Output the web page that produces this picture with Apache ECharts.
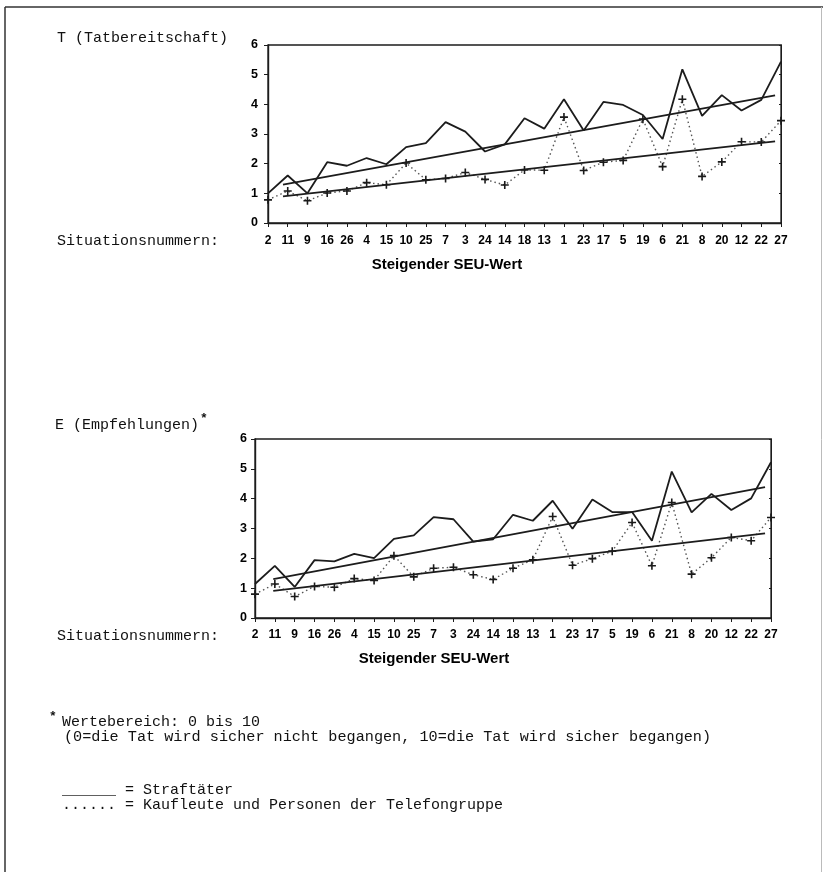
<!DOCTYPE html>
<html>
<head>
<meta charset="utf-8">
<script src="https://cdn.jsdelivr.net/npm/echarts@6/dist/echarts.min.js"></script>
<style>
  html, body { margin: 0; padding: 0; background: #fff; }
  #chart { width: 823px; height: 872px; }
</style>
</head>
<body>
<div id="chart"></div>
<script>
// Situation numbers, ordered by rising SEU value
const situations = ['2','11','9','16','26','4','15','10','25','7','3','24','14','18','13','1','23','17','5','19','6','21','8','20','12','22','27'];
const yTicks = [0, 1, 2, 3, 4, 5, 6];

// T (Tatbereitschaft)
const tStraftaeter = [1.0,1.6,1.0,2.05,1.93,2.19,1.98,2.56,2.69,3.40,3.08,2.41,2.65,3.53,3.18,4.17,3.12,4.08,3.98,3.64,2.83,5.18,3.61,4.31,3.79,4.15,5.44];
const tKaufleute = [0.78,1.08,0.75,1.01,1.08,1.36,1.29,2.02,1.46,1.50,1.70,1.47,1.28,1.79,1.78,3.57,1.77,2.05,2.11,3.50,1.90,4.17,1.57,2.06,2.74,2.73,3.45];
// regression lines: [position along situation index, value]
const tTrendStraftaeter = [[0.76, 1.29], [25.7, 4.30]];
const tTrendKaufleute = [[0.76, 0.90], [25.7, 2.75]];

// E (Empfehlungen)
const eStraftaeter = [1.14,1.75,1.04,1.94,1.90,2.15,2.01,2.65,2.77,3.38,3.31,2.56,2.64,3.46,3.26,3.93,2.99,3.97,3.55,3.55,2.59,4.91,3.54,4.16,3.62,4.01,5.22];
const eKaufleute = [0.80,1.14,0.72,1.06,1.03,1.32,1.26,2.09,1.38,1.67,1.70,1.45,1.29,1.67,1.95,3.40,1.77,1.99,2.24,3.20,1.75,3.87,1.47,2.02,2.70,2.59,3.37];
const eTrendStraftaeter = [[0.92, 1.30], [25.7, 4.39]];
const eTrendKaufleute = [[0.92, 0.91], [25.7, 2.84]];

const INK = '#1c1c1c';
const MONO = '"Liberation Mono", "DejaVu Sans Mono", monospace';
const SANS = '"Liberation Sans", Arial, sans-serif';
const PLUS = 'path://M4,0H6V4H10V6H6V10H4V6H0V4H4Z';

function catAxis(gridIndex, labelMargin) {
  return {
    type: 'category', gridIndex, data: situations, boundaryGap: false,
    axisLine: { lineStyle: { color: INK, width: 1.4 } },
    axisTick: { show: true, length: 4, alignWithLabel: true, lineStyle: { color: INK } },
    axisLabel: { interval: 0, color: '#000', fontFamily: SANS, fontWeight: 'bold', fontSize: 12, margin: labelMargin },
    splitLine: { show: false }
  };
}
function posAxis(gridIndex) {
  return { type: 'value', gridIndex, min: 0, max: situations.length - 1, show: false };
}
function valAxis(gridIndex, labelMargin) {
  return {
    type: 'value', gridIndex, min: yTicks[0], max: yTicks[yTicks.length - 1], interval: 1,
    axisLine: { show: true, lineStyle: { color: INK, width: 1.4 } },
    axisTick: { show: true, length: 4, lineStyle: { color: INK } },
    axisLabel: { color: '#000', fontFamily: SANS, fontWeight: 'bold', fontSize: 12.5, margin: labelMargin },
    splitLine: { show: false }
  };
}
function rightAxis(gridIndex) {
  return {
    type: 'value', gridIndex, position: 'right', min: 0, max: 6, interval: 1,
    axisLine: { show: true, lineStyle: { color: INK, width: 1 } },
    axisTick: { show: true, inside: true, length: 2, lineStyle: { color: INK } },
    axisLabel: { show: false }, splitLine: { show: false }
  };
}
function solid(name, data, xi, yi) {
  return { name, type: 'line', xAxisIndex: xi, yAxisIndex: yi, data, symbol: 'none',
    lineStyle: { color: INK, width: 1.8 }, z: 3, silent: true, animation: false };
}
function dotted(name, data, xi, yi) {
  return { name, type: 'line', xAxisIndex: xi, yAxisIndex: yi, data, symbol: PLUS, symbolSize: 8,
    showAllSymbol: true, itemStyle: { color: '#1a1a1a' },
    lineStyle: { color: '#555', width: 1.4, type: [1.5, 3] }, z: 2, silent: true, animation: false };
}
function trend(name, data, xi, yi) {
  return { name, type: 'line', xAxisIndex: xi, yAxisIndex: yi, data, symbol: 'none',
    lineStyle: { color: INK, width: 1.8 }, z: 4, silent: true, animation: false };
}
function txt(x, y, text, style) {
  return { type: 'text', x, y, silent: true,
    style: Object.assign({ text, fill: '#111', font: '15px ' + MONO, textVerticalAlign: 'middle' }, style || {}) };
}

const chart = echarts.init(document.getElementById('chart'), null, { renderer: 'canvas' });
chart.setOption({
  backgroundColor: '#fff',
  animation: false,
  grid: [
    { left: 268, right: 42, top: 45, bottom: 649, show: true, borderColor: INK, borderWidth: 1.3 },
    { left: 255, right: 52, top: 439, bottom: 254, show: true, borderColor: INK, borderWidth: 1.3 }
  ],
  xAxis: [catAxis(0, 12), posAxis(0), catAxis(1, 11), posAxis(1)],
  yAxis: [valAxis(0, 10), rightAxis(0), valAxis(1, 8), rightAxis(1)],
  series: [
    solid('Straftäter T', tStraftaeter, 0, 0),
    dotted('Kaufleute T', tKaufleute, 0, 0),
    trend('Trend Straftäter T', tTrendStraftaeter, 1, 0),
    trend('Trend Kaufleute T', tTrendKaufleute, 1, 0),
    solid('Straftäter E', eStraftaeter, 2, 2),
    dotted('Kaufleute E', eKaufleute, 2, 2),
    trend('Trend Straftäter E', eTrendStraftaeter, 3, 2),
    trend('Trend Kaufleute E', eTrendKaufleute, 3, 2)
  ],
  graphic: [
    // page frame
    { type: 'line', silent: true, shape: { x1: 5, y1: 7, x2: 823, y2: 7 }, style: { stroke: '#333', lineWidth: 1.5 } },
    { type: 'line', silent: true, shape: { x1: 5, y1: 7, x2: 5, y2: 872 }, style: { stroke: '#333', lineWidth: 1.5 } },
    { type: 'line', silent: true, shape: { x1: 821.5, y1: 7, x2: 821.5, y2: 872 }, style: { stroke: '#bbb', lineWidth: 1 } },

    txt(57, 38, 'T (Tatbereitschaft)'),
    txt(57, 241, 'Situationsnummern:'),
    txt(447, 265, 'Steigender SEU-Wert', { font: 'bold 15px ' + SANS, fill: '#000', textAlign: 'center' }),

    txt(55, 425, 'E (Empfehlungen)'),
    txt(200, 419, '*', { font: 'bold 13px ' + MONO }),
    txt(57, 636, 'Situationsnummern:'),
    txt(434, 659, 'Steigender SEU-Wert', { font: 'bold 15px ' + SANS, fill: '#000', textAlign: 'center' }),

    txt(49, 717, '*', { font: 'bold 13px ' + MONO }),
    txt(62, 722, 'Wertebereich: 0 bis 10'),
    txt(64, 737, '(0=die Tat wird sicher nicht begangen, 10=die Tat wird sicher begangen)', { font: '15.2px ' + MONO }),

    txt(62, 790, '______ = Straftäter'),
    txt(62, 805, '...... = Kaufleute und Personen der Telefongruppe')
  ]
});
</script>
</body>
</html>
